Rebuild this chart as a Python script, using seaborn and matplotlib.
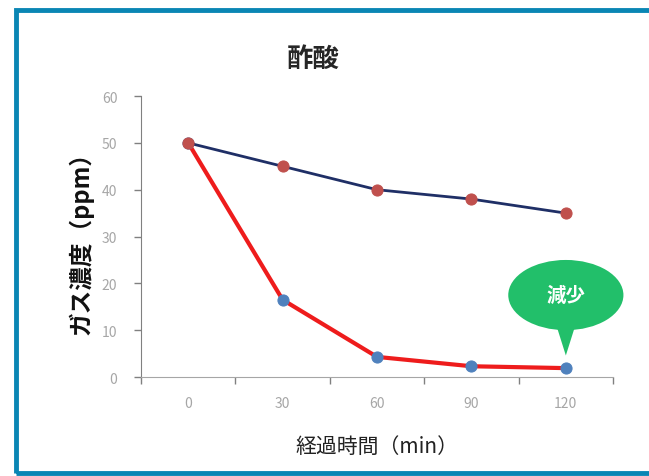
import matplotlib
matplotlib.use("Agg")
import numpy as np
import pandas as pd
import seaborn as sns
from matplotlib import pyplot as plt
from matplotlib.patches import Ellipse, Polygon, Rectangle

# %% Data
minutes = ["0", "30", "60", "90", "120"]
natural = [50, 45, 40, 38, 35]          # navy line, red markers
treated = [50, 16.5, 4.3, 2.3, 1.9]     # red line, blue markers

# %% Style
sns.set_style("white")
plt.rcParams['font.family'] = ['Noto Sans CJK JP', 'DejaVu Sans']


def main():
    pos = np.arange(len(minutes))
    df = pd.DataFrame({'pos': np.concatenate([pos, pos]),
                       'ppm': natural + treated,
                       'series': ['natural'] * len(pos) + ['treated'] * len(pos)})

    fig = plt.figure(figsize=(6.49, 4.77), dpi=100)
    ax = fig.add_axes([0.2173, 0.2075, 0.7273, 0.589])

    sns.lineplot(data=df[df.series == 'treated'], x='pos', y='ppm', ax=ax,
                 color='#ee1c1c', linewidth=3, marker='o', markersize=8,
                 markerfacecolor='#4f81bd', markeredgecolor='#4f81bd', zorder=3)
    sns.lineplot(data=df[df.series == 'natural'], x='pos', y='ppm', ax=ax,
                 color='#1f2f66', linewidth=2, marker='o', markersize=8,
                 markerfacecolor='#c0504d', markeredgecolor='#c0504d', zorder=4)

    ax.set_xlim(-0.5, len(minutes) - 0.5)
    ax.set_ylim(0, 60)
    ax.set_yticks(range(0, 61, 10))
    ax.set_xticks(pos)
    ax.set_xticklabels(minutes)
    ax.set_xticks(np.arange(-0.5, len(minutes), 1), minor=True)
    ax.tick_params(axis='x', which='major', bottom=True, length=0, pad=14,
                   labelsize=10, labelcolor='#a6a6a6')
    ax.tick_params(axis='x', which='minor', bottom=True, length=5, width=1,
                   color='#808080', direction='out')
    ax.tick_params(axis='y', left=True, length=5, width=1, color='#808080', direction='out',
                   labelsize=10, labelcolor='#a6a6a6', pad=12)
    for s in ['top', 'right']:
        ax.spines[s].set_visible(False)
    ax.spines['left'].set_color('#808080')
    ax.spines['bottom'].set_color('#a6a6a6')

    ax.set_xlabel('経過時間（min）', fontsize=15, color='#222222', labelpad=18)
    ax.set_ylabel('ガス濃度（ppm）', fontsize=17, fontweight='bold', color='#111111', labelpad=6)
    fig.text(0.482, 0.875, '酢酸', fontsize=19, fontweight='bold', ha='center', va='center')

    # speech bubble
    green = '#22bf6a'
    ax.add_patch(Ellipse((4, 17.5), 1.22, 15, facecolor=green, edgecolor='none', clip_on=False, zorder=5))
    ax.add_patch(Polygon([(3.9, 11), (4.1, 11), (4.0, 4.6)], closed=True,
                         facecolor=green, edgecolor='none', clip_on=False, zorder=5))
    ax.text(4, 17.5, '減少', color='white', fontsize=14, fontweight='bold',
            ha='center', va='center', zorder=6)

    # outer frame
    fig.patches.append(Rectangle((16 / 649, 3 / 477), 1.0, 463 / 477, transform=fig.transFigure,
                                 fill=False, edgecolor='#0a86b4', linewidth=3.5, clip_on=False))

    fig.savefig('out.png', dpi=100)


# %% Run file
if __name__ == '__main__':
    main()
